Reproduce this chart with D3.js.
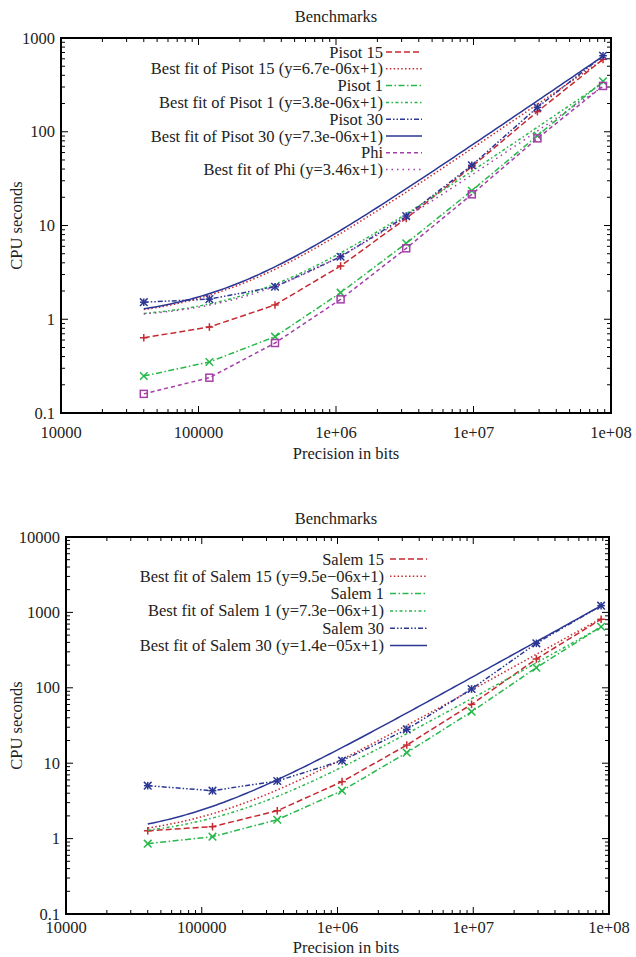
<!DOCTYPE html>
<html><head><meta charset="utf-8">
<script src="https://cdn.jsdelivr.net/npm/d3@7"></script>
<style>
body{margin:0;background:#fff;}
svg text{font-family:"Liberation Serif","DejaVu Serif",serif;fill:#222;}
</style></head>
<body><svg id="c" width="636" height="957"></svg>
<script>
// ---- data ----
const precisionBits = [40000, 120000, 360000, 1080000, 3240000, 9720000, 29160000, 87480000];
const xTickLabels = ["10000", "100000", "1e+06", "1e+07", "1e+08"];
const yTickLabelsTop = ["0.1", "1", "10", "100", "1000"];
const yTickLabelsBottom = ["0.1", "1", "10", "100", "1000", "10000"];

const pisot15 = [0.635, 0.826, 1.42, 3.70, 11.9, 42.4, 164, 592];
const pisot1  = [0.248, 0.35, 0.652, 1.92, 6.46, 23.5, 90.8, 345];
const pisot30 = [1.52, 1.64, 2.22, 4.64, 12.6, 43.9, 182, 647];
const phi     = [0.16, 0.238, 0.558, 1.63, 5.71, 21.5, 85, 308];
const pisotFitSlopes = [6.7e-6, 3.8e-6, 7.3e-6, 3.46e-6];

const salem15 = [1.27, 1.44, 2.34, 5.69, 17.4, 60.4, 241, 810];
const salem1  = [0.857, 1.06, 1.78, 4.32, 13.8, 48.2, 185, 646];
const salem30 = [5.03, 4.32, 5.81, 10.8, 28.1, 96.4, 389, 1227];
const salemFitSlopes = [9.5e-6, 7.3e-6, 1.4e-5];

const topNames = ["Pisot 15", "Pisot 1", "Pisot 30", "Phi"];
const topFitLabels = ["Best fit of Pisot 15 (y=6.7e-06x+1)", "Best fit of Pisot 1 (y=3.8e-06x+1)",
  "Best fit of Pisot 30 (y=7.3e-06x+1)", "Best fit of Phi (y=3.46x+1)"];
const bottomNames = ["Salem 15", "Salem 1", "Salem 30"];
const bottomFitLabels = ["Best fit of Salem 15 (y=9.5e\u221206x+1)", "Best fit of Salem 1 (y=7.3e\u221206x+1)",
  "Best fit of Salem 30 (y=1.4e\u221205x+1)"];

// ---- styles ----
const RED = "#c62a30", GREEN = "#27b84a", BLUE = "#2b3794", MAG = "#a43ea8";
const FS = 16.5;
const styles = {
  p15: {color: RED, dash: "6,3", fitDash: "1.5,2.3", marker: "plus"},
  p1:  {color: GREEN, dash: "6,2.5,1.5,2.5", fitDash: "3,2.5,1.5,2.5", marker: "cross"},
  p30: {color: BLUE, dash: "5,2,1.5,2,1.5,2", fitDash: null, marker: "star"},
  phi: {color: MAG, dash: "4,3", fitDash: "1.5,4", marker: "square"}
};

const svg = d3.select("#c");

function drawPanel(cfg) {
  const g = svg.append("g");
  const x = d3.scaleLog().domain([1e4, 1e8]).range([cfg.x0, cfg.x1]);
  const y = d3.scaleLog().domain(cfg.yDomain).range([cfg.y1, cfg.y0]);

  // ticks (all four sides, inward)
  const tickG = g.append("g").attr("stroke", "#000").attr("stroke-width", 1);
  const xt = [];
  for (let e = 4; e < 8; e++) for (let m = 1; m <= 9; m++) xt.push({v: m * Math.pow(10, e), major: m === 1});
  xt.push({v: 1e8, major: true});
  xt.forEach(t => {
    const L = t.major ? 7 : 4, px = x(t.v);
    tickG.append("line").attr("x1", px).attr("x2", px).attr("y1", cfg.y1).attr("y2", cfg.y1 - L);
    tickG.append("line").attr("x1", px).attr("x2", px).attr("y1", cfg.y0).attr("y2", cfg.y0 + L);
  });
  const [ya, yb] = cfg.yDomain;
  const yt = [];
  for (let e = Math.log10(ya); e < Math.log10(yb) - 1e-9; e++) for (let m = 1; m <= 9; m++) yt.push({v: m * Math.pow(10, e), major: m === 1});
  yt.push({v: yb, major: true});
  yt.forEach(t => {
    const L = t.major ? 7 : 4, py = y(t.v);
    tickG.append("line").attr("y1", py).attr("y2", py).attr("x1", cfg.x0).attr("x2", cfg.x0 + L);
    tickG.append("line").attr("y1", py).attr("y2", py).attr("x1", cfg.x1).attr("x2", cfg.x1 - L);
  });

  // tick labels
  const xMajors = [1e4, 1e5, 1e6, 1e7, 1e8];
  xMajors.forEach((v, i) => {
    g.append("text").attr("x", x(v)).attr("y", cfg.y1 + cfg.xTickDy).attr("text-anchor", "middle")
      .attr("font-size", FS).text(xTickLabels[i]);
  });
  cfg.yLabels.forEach((lab, i) => {
    g.append("text").attr("x", cfg.x0 - 6).attr("y", y(Number(lab)) + 5.5).attr("text-anchor", "end")
      .attr("font-size", FS).text(lab);
  });

  // titles
  g.append("text").attr("x", 336).attr("y", cfg.titleY).attr("text-anchor", "middle").attr("font-size", FS).text("Benchmarks");
  g.append("text").attr("x", 346).attr("y", cfg.y1 + cfg.xLabelDy).attr("text-anchor", "middle").attr("font-size", FS).text("Precision in bits");
  g.append("text").attr("transform", `translate(22,${(cfg.y0 + cfg.y1) / 2}) rotate(-90)`)
    .attr("text-anchor", "middle").attr("font-size", FS).text("CPU seconds");

  // clip
  const clipId = "clip" + cfg.id;
  svg.append("clipPath").attr("id", clipId).append("rect")
    .attr("x", cfg.x0).attr("y", cfg.y0).attr("width", cfg.x1 - cfg.x0).attr("height", cfg.y1 - cfg.y0);
  const plot = g.append("g").attr("clip-path", `url(#${clipId})`);

  const line = d3.line().x(d => x(d[0])).y(d => y(d[1]));
  const xmin = d3.min(precisionBits), xmax = d3.max(precisionBits);
  const fitXs = d3.range(0, 121).map(i => xmin * Math.pow(xmax / xmin, i / 120));

  // legend
  const leg = g.append("g");
  let row = 0;

  cfg.series.forEach((s, si) => {
    const st = styles[s.style];
    const pts = precisionBits.map((xv, i) => [xv, s.values[i]]);
    plot.append("path").attr("d", line(pts)).attr("fill", "none").attr("stroke", st.color)
      .attr("stroke-width", 1.5).attr("stroke-dasharray", st.dash);
    pts.forEach(p => drawMarker(plot, x(p[0]), y(p[1]), st));
    const fitPts = fitXs.map(xv => [xv, s.slope * xv + 1]);
    plot.append("path").attr("d", line(fitPts)).attr("fill", "none").attr("stroke", st.color)
      .attr("stroke-width", 1.5).attr("stroke-dasharray", st.fitDash);

    [[s.name, st.dash], [s.fitLabel, st.fitDash]].forEach(([lab, dash]) => {
      const ly = cfg.legY + row * cfg.legStep;
      leg.append("text").attr("x", cfg.legTextX).attr("y", ly + 5.5).attr("text-anchor", "end")
        .attr("font-size", FS).text(lab);
      leg.append("line").attr("x1", cfg.legLineX0).attr("x2", cfg.legLineX1).attr("y1", ly).attr("y2", ly)
        .attr("stroke", st.color).attr("stroke-width", 1.5).attr("stroke-dasharray", dash);
      row++;
    });
  });

  // frame
  g.append("rect").attr("x", cfg.x0).attr("y", cfg.y0).attr("width", cfg.x1 - cfg.x0).attr("height", cfg.y1 - cfg.y0)
    .attr("fill", "none").attr("stroke", "#000").attr("stroke-width", 2);
}

function drawMarker(g, cx, cy, st) {
  const r = 3.8;
  const m = g.append("g").attr("stroke", st.color).attr("stroke-width", 1.5).attr("fill", "none");
  if (st.marker === "plus" || st.marker === "star") {
    m.append("line").attr("x1", cx - r).attr("x2", cx + r).attr("y1", cy).attr("y2", cy);
    m.append("line").attr("x1", cx).attr("x2", cx).attr("y1", cy - r).attr("y2", cy + r);
  }
  if (st.marker === "cross" || st.marker === "star") {
    m.append("line").attr("x1", cx - r).attr("x2", cx + r).attr("y1", cy - r).attr("y2", cy + r);
    m.append("line").attr("x1", cx - r).attr("x2", cx + r).attr("y1", cy + r).attr("y2", cy - r);
  }
  if (st.marker === "square") {
    m.append("rect").attr("x", cx - 3.5).attr("y", cy - 3.5).attr("width", 7).attr("height", 7);
  }
}

drawPanel({
  id: "top", x0: 61, x1: 611, y0: 38, y1: 413, yDomain: [0.1, 1000], yLabels: yTickLabelsTop, titleY: 22,
  xTickDy: 25, xLabelDy: 46,
  legY: 52, legStep: 16.8, legTextX: 383, legLineX0: 386, legLineX1: 422,
  series: [
    {name: topNames[0], fitLabel: topFitLabels[0], values: pisot15, slope: pisotFitSlopes[0], style: "p15"},
    {name: topNames[1], fitLabel: topFitLabels[1], values: pisot1, slope: pisotFitSlopes[1], style: "p1"},
    {name: topNames[2], fitLabel: topFitLabels[2], values: pisot30, slope: pisotFitSlopes[2], style: "p30"},
    {name: topNames[3], fitLabel: topFitLabels[3], values: phi, slope: pisotFitSlopes[3], style: "phi"}
  ]
});

drawPanel({
  id: "bottom", x0: 66, x1: 609, y0: 537, y1: 914, yDomain: [0.1, 10000], yLabels: yTickLabelsBottom, titleY: 524,
  xTickDy: 19, xLabelDy: 39,
  legY: 559, legStep: 17.3, legTextX: 384, legLineX0: 390, legLineX1: 427,
  series: [
    {name: bottomNames[0], fitLabel: bottomFitLabels[0], values: salem15, slope: salemFitSlopes[0], style: "p15"},
    {name: bottomNames[1], fitLabel: bottomFitLabels[1], values: salem1, slope: salemFitSlopes[1], style: "p1"},
    {name: bottomNames[2], fitLabel: bottomFitLabels[2], values: salem30, slope: salemFitSlopes[2], style: "p30"}
  ]
});
</script></body></html>
